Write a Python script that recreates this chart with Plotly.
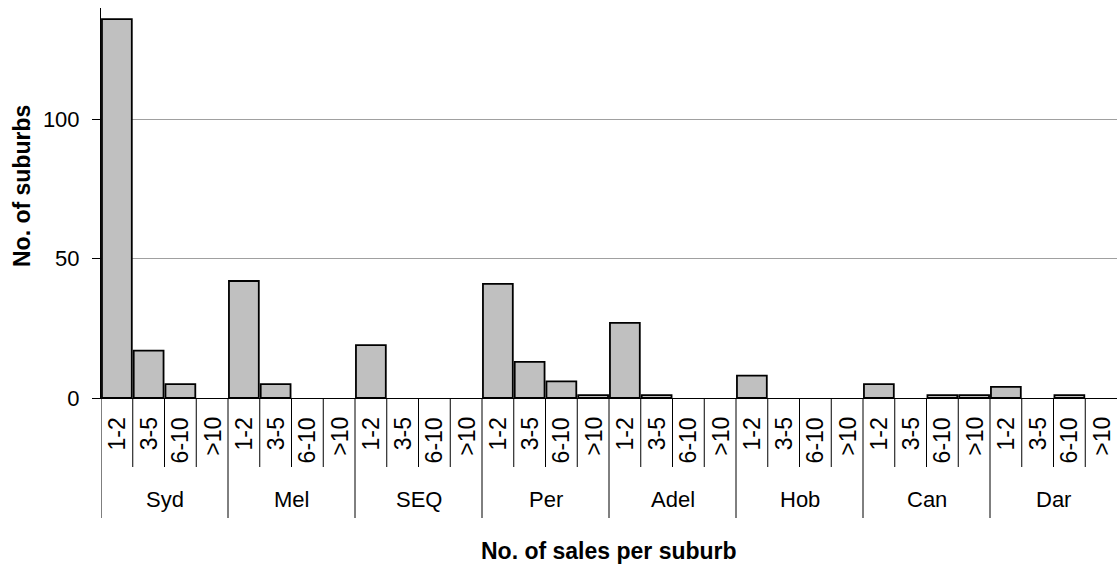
import plotly.graph_objects as go

# Cities and sales-count bands per suburb
cities = ["Syd", "Mel", "SEQ", "Per", "Adel", "Hob", "Can", "Dar"]
bands = ["1-2", "3-5", "6-10", ">10"]

# Number of suburbs in each band, per city (in band order)
syd = [136, 17, 5, 0]
mel = [42, 5, 0, 0]
seq = [19, 0, 0, 0]
per = [41, 13, 6, 1]
adel = [27, 1, 0, 0]
hob = [8, 0, 0, 0]
can = [5, 0, 1, 1]
dar = [4, 0, 1, 0]

series = [syd, mel, seq, per, adel, hob, can, dar]
counts = [v for s in series for v in s]
positions = list(range(len(counts)))
# empty bands get no bar at all
bar_heights = [v if v > 0 else None for v in counts]

FONT = "Liberation Sans, Arial, sans-serif"
n_b = len(bands)
BAND_SIZE = 23

# Arial advance widths (em) for the characters used in the band labels
ADV = {"0": 0.556, "1": 0.556, "2": 0.556, "3": 0.556, "5": 0.556,
       "6": 0.556, "-": 0.333, ">": 0.584}


def text_len(s, size):
    return sum(ADV.get(c, 0.556) for c in s) * size


fig = go.Figure(
    go.Bar(
        x=positions,
        y=bar_heights,
        marker=dict(color="#C0C0C0", line=dict(color="black", width=1.8)),
        width=0.94,
        hoverinfo="skip",
    )
)

shapes = []
annotations = []

# Band labels (rotated, reading upwards, ending just below the axis)
for i in positions:
    label = bands[i % n_b]
    half = text_len(label, BAND_SIZE) / 2
    annotations.append(dict(
        x=i, xref="x", y=0, yref="paper", yanchor="middle", xanchor="center",
        yshift=-(19 + half), text=label, textangle=-90, showarrow=False,
        font=dict(family=FONT, size=BAND_SIZE, color="black"),
    ))
    if i % n_b != 0:
        shapes.append(dict(
            type="line", xref="x", yref="paper", ysizemode="pixel", yanchor=0,
            x0=i - 0.5, x1=i - 0.5, y0=0, y1=-69,
            line=dict(color="black", width=1),
        ))

# City labels and long dividers between cities
for g, city in enumerate(cities):
    annotations.append(dict(
        x=g * n_b + (n_b - 1) / 2, xref="x", y=0, yref="paper",
        yanchor="middle", xanchor="center", yshift=-101, text=city,
        showarrow=False, font=dict(family=FONT, size=22, color="black"),
    ))
    shapes.append(dict(
        type="line", xref="x", yref="paper", ysizemode="pixel", yanchor=0,
        x0=g * n_b - 0.5, x1=g * n_b - 0.5, y0=0, y1=-120,
        line=dict(color="black", width=1),
    ))

# Axis titles
annotations.append(dict(
    x=0, xref="paper", xshift=-79, y=0.5436, yref="paper", xanchor="center",
    yanchor="middle", text="<b>No. of suburbs</b>", textangle=-90,
    showarrow=False, font=dict(family=FONT, size=23, color="black"),
))
annotations.append(dict(
    x=0.5, xref="paper", y=0, yref="paper", xanchor="center",
    yanchor="middle", yshift=-153, text="<b>No. of sales per suburb</b>",
    showarrow=False, font=dict(family=FONT, size=23, color="black"),
))

fig.update_layout(
    width=1117,
    height=572,
    margin=dict(l=101, r=0, t=8, b=174),
    paper_bgcolor="white",
    plot_bgcolor="white",
    showlegend=False,
    bargap=0.06,
    shapes=shapes,
    annotations=annotations,
    xaxis=dict(
        range=[-0.5, len(counts) - 0.5],
        showticklabels=False,
        ticks="",
        showgrid=False,
        zeroline=False,
        showline=True,
        linecolor="black",
        linewidth=1,
    ),
    yaxis=dict(
        range=[0, 140],
        tickvals=[0, 50, 100],
        ticks="outside",
        ticklen=8,
        tickcolor="black",
        tickwidth=1,
        ticklabelstandoff=8,
        tickfont=dict(family=FONT, size=22, color="black"),
        showgrid=True,
        gridcolor="#A0A0A0",
        gridwidth=1,
        zeroline=False,
        showline=True,
        linecolor="black",
        linewidth=1,
    ),
)

fig.write_html("out.html")
